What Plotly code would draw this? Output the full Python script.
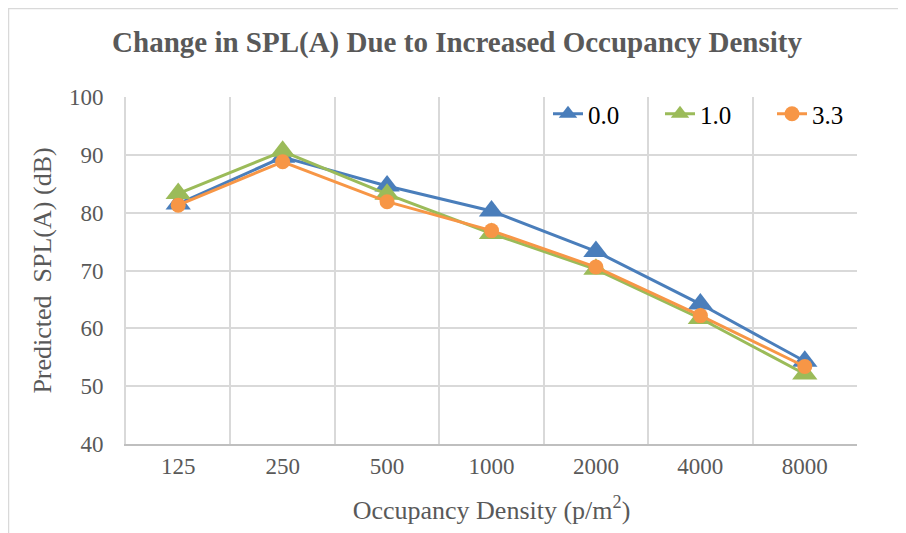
import plotly.graph_objects as go

categories = ["125", "250", "500", "1000", "2000", "4000", "8000"]
series_names = ["0.0", "1.0", "3.3"]
spl_00 = [81.5, 89.6, 84.6, 80.3, 73.3, 64.2, 54.3]
spl_10 = [83.3, 90.6, 83.2, 76.4, 70.2, 61.7, 52.1]
spl_33 = [81.3, 88.8, 81.9, 76.9, 70.6, 62.2, 53.4]
y_ticks = [40, 50, 60, 70, 80, 90, 100]

colors = ["#4A7EBB", "#9BBB59", "#F79646"]
symbols = ["triangle-up", "triangle-up", "circle"]
sizes = [22, 22, 15]
font_family = "Liberation Serif, Times New Roman, serif"

fig = go.Figure()
for name, vals, c, s, sz in zip(series_names, [spl_00, spl_10, spl_33], colors, symbols, sizes):
    fig.add_trace(go.Scatter(
        x=categories, y=vals, name=name, mode="lines+markers",
        line=dict(color=c, width=3),
        marker=dict(color=c, symbol=s, size=sz),
    ))

# page has 8px body margin, so figure origin sits at (8, 8) in the window
W, H = 898, 525
L, R, T, B = 118, 49, 89, 89
pw, ph = W - L - R, H - T - B

def px_to_paper_x(px):
    return (px - L) / pw

def px_to_paper_y(py):
    return (H - B - py) / ph

fig.add_shape(type="rect", xref="paper", yref="paper",
              x0=px_to_paper_x(0.5), x1=px_to_paper_x(W + 10),
              y0=px_to_paper_y(H + 10), y1=px_to_paper_y(0.5),
              line=dict(color="#d9d9d9", width=1.5), fillcolor="rgba(0,0,0,0)", layer="below")

fig.update_layout(
    width=W, height=H,
    margin=dict(l=L, r=R, t=T, b=B, autoexpand=False),
    paper_bgcolor="white", plot_bgcolor="white",
    font=dict(family=font_family, color="#595959", size=23),
    title=dict(text="<b>Change in SPL(A) Due to Increased Occupancy Density</b>",
               x=0.5, xanchor="center", y=1 - 34 / H, yanchor="middle",
               font=dict(size=29, color="#595959", family=font_family)),
    legend=dict(orientation="h", x=px_to_paper_x(540), xanchor="left",
                y=px_to_paper_y(83), yanchor="top",
                bgcolor="rgba(0,0,0,0)", font=dict(size=25, color="#000000", family=font_family),
                entrywidth=67, entrywidthmode="pixels", traceorder="normal"),
    xaxis=dict(
        type="category", categoryorder="array", categoryarray=categories,
        range=[-0.5, 6.5], tickson="boundaries",
        showgrid=True, gridcolor="#d9d9d9", gridwidth=2,
        showline=True, linecolor="#bfbfbf", linewidth=2,
        ticks="outside", ticklen=12, tickcolor="rgba(0,0,0,0)",
        tickfont=dict(size=23, color="#595959"),
        title=dict(text="Occupancy Density (p/m<sup>2</sup>)", font=dict(size=26, color="#595959"), standoff=23),
        zeroline=False,
    ),
    yaxis=dict(
        range=[40, 100], tickvals=y_ticks, ticktext=[str(v) for v in y_ticks],
        showgrid=True, gridcolor="#d9d9d9", gridwidth=2,
        showline=True, linecolor="#d9d9d9", linewidth=2,
        ticks="outside", ticklen=16, tickcolor="rgba(0,0,0,0)",
        tickfont=dict(size=23, color="#595959"),
        title=dict(text="Predicted  SPL(A) (dB)", font=dict(size=26, color="#595959"), standoff=10),
        zeroline=False,
    ),
)

fig.write_html("out.html")
